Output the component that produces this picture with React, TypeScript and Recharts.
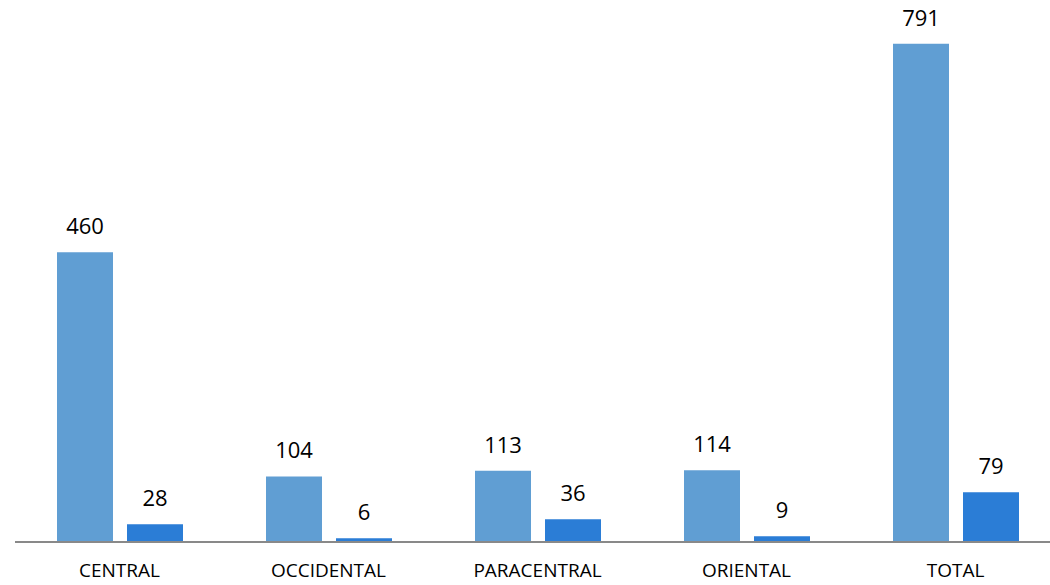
import React from 'react';
import { BarChart, Bar, XAxis, YAxis, LabelList } from 'recharts';

// zones and the two counts per zone
const categories = ['CENTRAL', 'OCCIDENTAL', 'PARACENTRAL', 'ORIENTAL', 'TOTAL'];
const seriesA = [460, 104, 113, 114, 791];
const seriesB = [28, 6, 36, 9, 79];

const data = categories.map((name, i) => ({ name, a: seriesA[i], b: seriesB[i] }));

const font = '"Open Sans", "Noto Sans", sans-serif';

export default function App() {
  return (
    <div style={{ position: 'absolute', left: 0, top: 0, width: 1050, height: 585, overflow: 'hidden', background: '#fff' }}>
      <BarChart
        width={1060}
        height={585}
        data={data}
        margin={{ top: 38, right: 0, left: 15, bottom: 0 }}
        barGap={14}
        barSize={56}
      >
        <XAxis
          dataKey="name"
          height={43}
          tickLine={false}
          tickSize={0}
          tickMargin={22}
          axisLine={{ stroke: '#898989', strokeWidth: 2 }}
          tick={{ fill: '#000', fontSize: 19, fontFamily: font }}
          interval={0}
        />
        <YAxis hide domain={[0, 800]} />
        <Bar dataKey="a" fill="#609ED3" isAnimationActive={false}>
          <LabelList dataKey="a" position="top" offset={18} style={{ fill: '#000', fontSize: 22, fontFamily: font }} />
        </Bar>
        <Bar dataKey="b" fill="#2B7DD6" isAnimationActive={false}>
          <LabelList dataKey="b" position="top" offset={18} style={{ fill: '#000', fontSize: 22, fontFamily: font }} />
        </Bar>
      </BarChart>
    </div>
  );
}
